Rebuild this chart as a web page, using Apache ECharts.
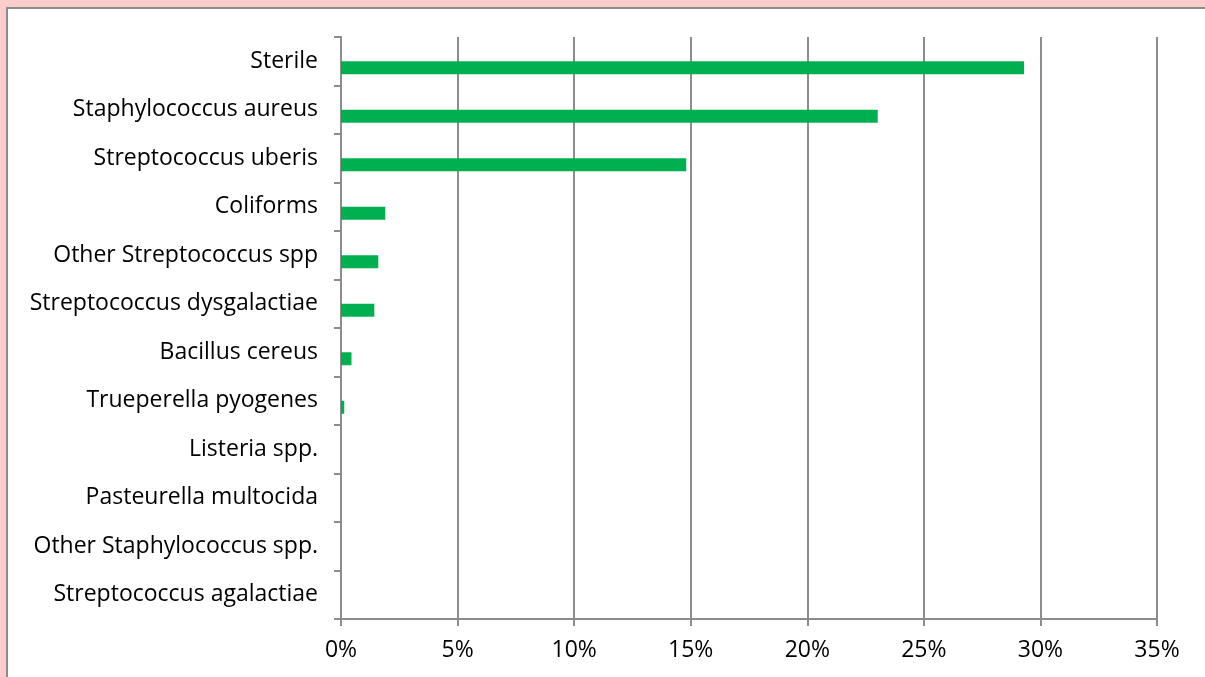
<!DOCTYPE html>
<html>
<head>
<meta charset="utf-8">
<style>
  html, body { margin: 0; padding: 0; background: #ffcccc; }
  #frame { position: absolute; left: 6px; top: 7px; right: 0; bottom: 0; background: #ffffff;
           border-left: 2px solid #8c8c8c; border-top: 2px solid #8c8c8c; }
  #chart { position: absolute; left: 0; top: 0; width: 1205px; height: 677px; }
</style>
<script src="https://cdn.jsdelivr.net/npm/echarts@6/dist/echarts.min.js"></script>
</head>
<body>
<div id="frame"></div>
<div id="chart"></div>
<script>
// Isolates from milk samples, share of all samples
const categories = [
  'Sterile',
  'Staphylococcus aureus',
  'Streptococcus uberis',
  'Coliforms',
  'Other Streptococcus spp',
  'Streptococcus dysgalactiae',
  'Bacillus cereus',
  'Trueperella pyogenes',
  'Listeria spp.',
  'Pasteurella multocida',
  'Other Staphylococcus spp.',
  'Streptococcus agalactiae'
];
// Companion series (no recorded values), keeps the paired bar slot
const priorShare = [0, 0, 0, 0, 0, 0, 0, 0, 0, 0, 0, 0];
const share = [0.293, 0.2302, 0.1481, 0.019, 0.016, 0.0143, 0.0045, 0.0014, 0, 0, 0, 0];
const xTicks = { min: 0, max: 0.35, step: 0.05 };

const gridColor = '#8c8c8c';
const labelFont = 'Open Sans';
const chart = echarts.init(document.getElementById('chart'), null, { renderer: 'canvas' });
chart.setOption({
  backgroundColor: 'transparent',
  animation: false,
  grid: { left: 341, right: 48, top: 37, bottom: 58, containLabel: false },
  xAxis: {
    type: 'value',
    min: xTicks.min, max: xTicks.max, interval: xTicks.step,
    axisLine: { show: true, lineStyle: { color: gridColor, width: 2 } },
    axisTick: { show: true, length: 7, lineStyle: { color: gridColor, width: 2 } },
    splitLine: { show: true, lineStyle: { color: gridColor, width: 2 } },
    axisLabel: {
      margin: 20, color: '#000', fontFamily: labelFont, fontSize: 23,
      formatter: v => Math.round(v * 100) + '%'
    }
  },
  yAxis: {
    type: 'category',
    inverse: true,
    data: categories,
    axisLine: { show: true, lineStyle: { color: gridColor, width: 2 } },
    axisTick: { show: true, length: 7, lineStyle: { color: gridColor, width: 2 } },
    axisLabel: { margin: 23, color: '#000', fontFamily: labelFont, fontSize: 23,
                 lineHeight: 27, padding: [6, 0, 0, 0] }
  },
  series: [
    { type: 'bar', name: 'prior', data: priorShare, barWidth: 13, barGap: '0%',
      itemStyle: { color: '#4f81bd' } },
    { type: 'bar', name: 'share', data: share, barWidth: 13, barGap: '0%',
      itemStyle: { color: '#00b050' } }
  ]
});
</script>
</body>
</html>
